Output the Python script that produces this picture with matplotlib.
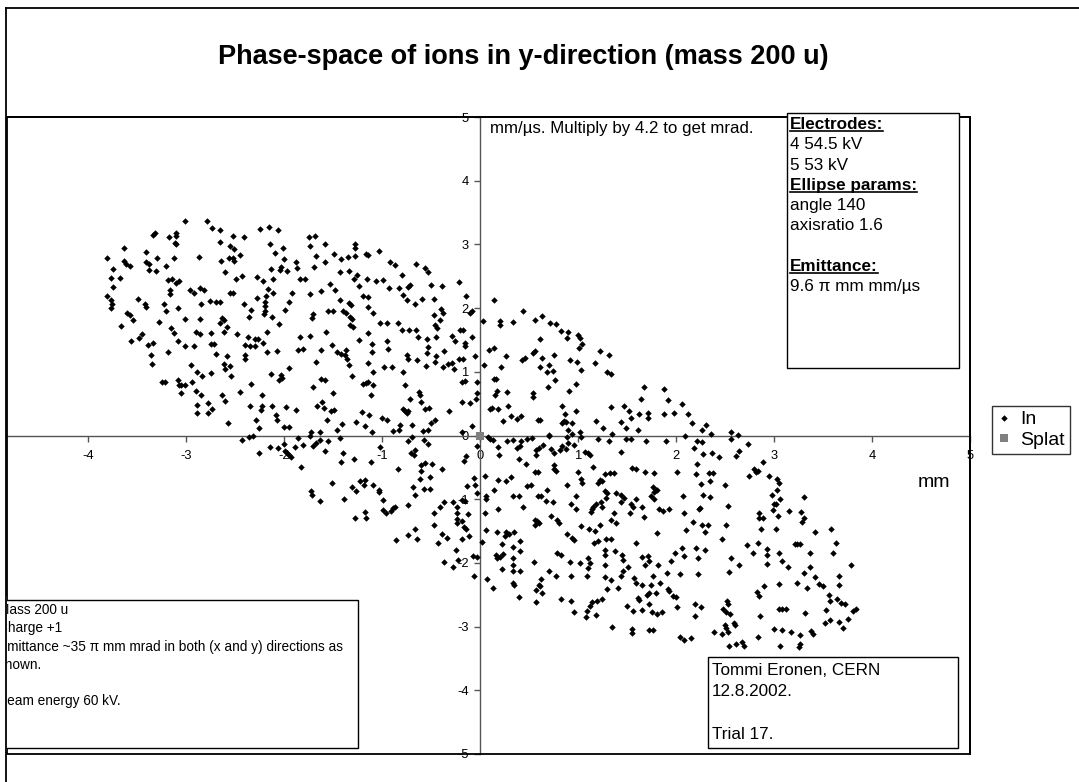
import matplotlib
matplotlib.use("Agg")
import matplotlib.pyplot as plt
from matplotlib.patches import Rectangle
from matplotlib.lines import Line2D

plt.rcParams['font.family'] = ['Liberation Sans', 'DejaVu Sans']
plt.rcParams['axes.unicode_minus'] = False

W, H = 1079, 782

# phase-space points (x in mm, y' in mm/us)
in_upper_left = [
    (-3.01, 3.37), (-2.79, 3.36), (-2.74, 3.25), (-2.66, 3.23), (-2.25, 3.24), (-2.16, 3.28), (-2.06, 3.23),
    (-3.32, 3.18), (-3.34, 3.15), (-3.10, 3.18), (-3.11, 3.13), (-3.18, 3.12), (-2.52, 3.13), (-2.41, 3.11), (-1.75, 3.12),
    (-3.64, 2.95), (-3.12, 3.02), (-3.10, 3.01), (-2.66, 3.04), (-2.55, 2.98), (-2.51, 2.93), (-2.15, 3.00), (-1.74, 2.98),
    (-3.41, 2.88), (-2.01, 2.94), (-2.09, 2.87), (-2.45, 2.83), (-2.52, 2.78), (-2.56, 2.78), (-2.51, 2.74), (-2.87, 2.81),
    (-3.81, 2.78), (-3.30, 2.78), (-3.13, 2.78), (-3.64, 2.74), (-3.62, 2.69), (-3.41, 2.73), (-3.38, 2.69), (-3.57, 2.66),
    (-2.00, 2.77), (-1.88, 2.73), (-2.65, 2.74), (-2.60, 2.57), (-3.75, 2.61), (-3.38, 2.60), (-3.31, 2.59), (-3.21, 2.66),
    (-2.03, 2.64), (-2.04, 2.60), (-1.97, 2.59), (-2.14, 2.62), (-1.87, 2.63), (-1.70, 2.65), (-3.77, 2.47), (-3.68, 2.48),
    (-2.43, 2.50), (-2.49, 2.45), (-2.28, 2.49), (-2.22, 2.43), (-2.11, 2.46), (-1.84, 2.46), (-1.79, 2.46),
    (-3.19, 2.44), (-3.15, 2.45), (-3.07, 2.43), (-3.11, 2.39), (-3.75, 2.33), (-3.17, 2.29), (-3.17, 2.22), (-2.96, 2.29),
    (-2.92, 2.23), (-2.86, 2.31), (-2.82, 2.28), (-2.17, 2.30), (-2.11, 2.24), (-1.92, 2.24), (-1.74, 2.22),
    (-3.81, 2.19), (-3.77, 2.13), (-3.76, 2.06), (-3.77, 2.00), (-3.49, 2.14), (-3.42, 2.06), (-3.41, 2.02), (-3.23, 2.06),
    (-3.21, 1.96), (-3.08, 2.00), (-2.85, 2.06), (-2.76, 2.11), (-2.70, 2.10), (-2.66, 2.09), (-2.55, 2.23), (-2.52, 2.23),
    (-2.41, 2.07), (-2.28, 2.16), (-2.19, 2.19), (-2.20, 2.09), (-2.20, 2.04), (-2.20, 1.96), (-2.21, 1.90), (-2.34, 1.97),
    (-1.99, 1.97), (-1.95, 2.10),
    (-3.61, 1.92), (-3.57, 1.89), (-3.54, 1.82), (-3.28, 1.78), (-3.01, 1.83), (-2.86, 1.83), (-2.64, 1.85), (-2.62, 1.82),
    (-2.66, 1.77), (-2.58, 1.71), (-2.36, 1.86), (-2.13, 1.86), (-1.71, 1.90), (-1.72, 1.84),
    (-3.67, 1.72), (-3.16, 1.69), (-3.13, 1.61), (-2.90, 1.63), (-2.86, 1.60), (-2.75, 1.61), (-2.62, 1.63), (-2.48, 1.59),
    (-2.18, 1.62), (-2.05, 1.75), (-1.74, 1.56),
    (-3.56, 1.48), (-3.48, 1.53), (-3.45, 1.59), (-3.39, 1.42), (-3.34, 1.45), (-3.08, 1.48), (-3.01, 1.41), (-2.92, 1.41),
    (-2.75, 1.43), (-2.72, 1.44), (-2.37, 1.54), (-2.30, 1.52), (-2.27, 1.52), (-2.40, 1.42), (-2.35, 1.41), (-2.30, 1.41),
    (-2.22, 1.45), (-1.84, 1.55),
    (-3.19, 1.31), (-2.70, 1.28), (-2.58, 1.25), (-2.40, 1.26), (-2.40, 1.20), (-2.18, 1.31), (-2.07, 1.32), (-1.86, 1.35),
    (-1.81, 1.36), (-3.36, 1.26), (-3.35, 1.13), (-2.95, 1.10), (-2.62, 1.12), (-2.55, 1.09), (-2.60, 1.04), (-1.95, 1.06),
    (-2.89, 0.99), (-2.75, 0.98), (-2.84, 0.93), (-2.54, 0.94), (-2.14, 0.97), (-2.03, 0.95), (-2.02, 0.91), (-2.05, 0.87),
    (-3.25, 0.84), (-3.22, 0.84), (-3.08, 0.87), (-3.07, 0.80), (-3.05, 0.79), (-3.01, 0.80), (-2.94, 0.84), (-2.34, 0.81),
    (-1.71, 0.76), (-2.90, 0.70), (-2.85, 0.63), (-3.05, 0.66), (-2.64, 0.63), (-2.45, 0.68), (-2.23, 0.63),
    (-2.60, 0.54), (-2.89, 0.48), (-2.78, 0.51), (-2.74, 0.42), (-2.89, 0.35), (-2.78, 0.36), (-2.35, 0.46), (-2.23, 0.47),
    (-2.24, 0.40), (-2.12, 0.46), (-1.98, 0.44), (-1.88, 0.40),
    (-2.57, 0.20), (-2.08, 0.32), (-2.07, 0.25), (-2.29, 0.24), (-2.00, 0.14), (-1.95, 0.13), (-1.73, 0.05), (-2.26, 0.11),
]

in_upper_mid = [
    (-1.58, 3.01), (-1.69, 3.13), (-1.28, 3.00), (-1.28, 2.95), (-1.49, 2.85), (-1.17, 2.85), (-1.14, 2.83), (-1.03, 2.89),
    (-1.68, 2.82), (-1.58, 2.73), (-1.42, 2.77), (-1.35, 2.80), (-1.28, 2.82), (-0.92, 2.73), (-0.87, 2.67), (-0.65, 2.69),
    (-0.56, 2.63), (-0.53, 2.57), (-1.43, 2.57), (-1.34, 2.58), (-1.26, 2.52), (-1.29, 2.45), (-1.16, 2.46), (-1.06, 2.42),
    (-0.99, 2.44), (-0.80, 2.52), (-0.72, 2.37), (-0.74, 2.33), (-0.83, 2.31), (-0.93, 2.31), (-1.24, 2.34), (-1.53, 2.38),
    (-1.48, 2.28), (-1.62, 2.27), (-0.50, 2.37), (-0.39, 2.34), (-0.22, 2.41), (-0.14, 2.19), (-1.20, 2.19), (-1.14, 2.18),
    (-0.79, 2.20), (-0.75, 2.13), (-0.67, 2.07), (-0.59, 2.15), (-0.47, 2.15), (-1.43, 2.12), (-1.34, 2.08), (-1.32, 2.05),
    (-1.55, 1.95), (-1.50, 1.95), (-1.40, 1.96), (-1.37, 1.93), (-1.33, 1.86), (-1.31, 1.83), (-1.14, 2.01), (-1.09, 1.93),
    (-1.33, 1.73), (-1.30, 1.71), (-1.15, 1.61), (-1.02, 1.76), (-0.95, 1.76), (-0.84, 1.76), (-0.80, 1.66), (-0.73, 1.65),
    (-0.66, 1.65), (-0.63, 1.54), (-0.54, 1.52), (-0.45, 1.54), (-0.47, 1.89), (-0.46, 1.73), (-0.44, 1.69), (-0.41, 1.82),
    (-0.40, 1.98), (-0.38, 1.92), (-0.29, 1.56), (-0.26, 1.48), (-0.21, 1.66), (-0.18, 1.66), (-0.15, 1.45), (-0.15, 1.40),
    (-0.10, 1.92), (-0.08, 1.95), (-0.08, 1.55), (-0.05, 1.25), (-0.03, 0.84), (-0.03, 0.66), (-0.04, 0.57), (-0.08, 0.15),
    (-0.19, 0.84), (-0.15, 0.85), (-0.19, 0.53), (-0.10, 0.51), (-0.22, 1.20), (-0.18, 1.20), (-0.29, 1.14), (-0.27, 1.05),
    (-0.33, 1.12), (-0.38, 1.07), (-0.45, 1.25), (-0.46, 1.16), (-0.37, 1.32), (-0.53, 1.39), (-0.54, 1.30), (-0.55, 1.09),
    (-0.64, 1.18), (-0.75, 1.27), (-0.74, 1.20), (-0.94, 1.36), (-0.95, 1.49), (-1.10, 1.44), (-1.10, 1.31), (-1.24, 1.50),
    (-1.37, 1.34), (-1.38, 1.27), (-1.36, 1.20), (-1.34, 1.10), (-1.42, 1.28), (-1.51, 1.42), (-1.57, 1.63), (-1.62, 1.34),
    (-1.68, 1.16), (-1.46, 1.31), (-1.31, 0.93), (-1.15, 1.14), (-1.09, 1.00), (-0.98, 1.07), (-0.90, 1.07), (-0.79, 0.99),
    (-1.20, 0.81), (-1.17, 0.82), (-1.15, 0.84), (-1.09, 0.80), (-1.11, 0.64), (-0.77, 0.80), (-0.72, 0.58), (-0.62, 0.68),
    (-0.61, 0.64), (-0.60, 0.52), (-0.56, 0.41), (-0.52, 0.43), (-0.79, 0.42), (-0.77, 0.38), (-0.75, 0.36), (-0.74, 0.39),
    (-1.67, 0.46), (-1.59, 0.43), (-1.61, 0.52), (-1.52, 0.39), (-1.49, 0.40), (-1.56, 0.24), (-1.62, 0.89), (-1.58, 0.87),
    (-1.50, 0.66), (-1.46, 0.09), (-1.41, 0.18), (-1.27, 0.21), (-1.21, 0.37), (-1.18, 0.15), (-1.13, 0.32), (-1.10, 0.06),
    (-1.00, 0.27), (-0.95, 0.25), (-0.89, 0.07), (-0.83, 0.08), (-0.82, 0.17), (-0.70, 0.17), (-0.58, 0.07), (-0.53, 0.08),
    (-0.50, 0.20), (-0.46, 0.25), (-0.32, 0.39), (-0.19, 0.05), (-1.64, 0.05),
]

in_upper_right = [
    (0.14, 2.12), (0.03, 1.79), (0.44, 1.95), (0.20, 1.79), (0.20, 1.73), (0.34, 1.78), (0.56, 1.82), (0.63, 1.87),
    (0.71, 1.77), (0.77, 1.75), (0.82, 1.64), (0.90, 1.62), (0.89, 1.53), (1.00, 1.57), (1.02, 1.53), (1.04, 1.43),
    (1.01, 1.37), (0.61, 1.51), (0.09, 1.34), (0.14, 1.38), (0.04, 1.11), (0.26, 1.25), (0.21, 1.07), (0.54, 1.30),
    (0.56, 1.33), (0.43, 1.19), (0.46, 1.22), (0.63, 1.21), (0.75, 1.26), (0.61, 1.07), (0.70, 1.10), (0.68, 1.00),
    (0.74, 1.01), (0.76, 0.87), (0.69, 0.76), (0.92, 1.18), (0.99, 1.16), (1.03, 1.03), (1.17, 1.14), (1.22, 1.32),
    (1.32, 1.26), (1.29, 0.99), (1.34, 0.97), (0.14, 0.89), (0.16, 0.89), (0.17, 0.70), (0.15, 0.63), (0.27, 0.68),
    (0.10, 0.42), (0.12, 0.43), (0.18, 0.41), (0.28, 0.47), (0.31, 0.30), (0.23, 0.23), (0.38, 0.26), (0.42, 0.31),
    (0.54, 0.66), (0.54, 0.60), (0.59, 0.24), (0.61, 0.24), (0.91, 0.70), (0.98, 0.81), (0.84, 0.46), (0.87, 0.33),
    (0.86, 0.23), (0.84, 0.20), (0.88, 0.21), (0.94, 0.20), (0.98, 0.39), (0.90, 0.08), (0.94, 0.03), (1.02, 0.06),
    (0.70, 0.01), (1.18, 0.23), (1.25, 0.12), (1.34, 0.45), (1.35, 0.03), (1.44, 0.21), (1.47, 0.46), (1.49, 0.12),
    (1.52, 0.39), (1.54, 0.28), (1.61, 0.09), (1.62, 0.34), (1.64, 0.58), (1.67, 0.76), (1.71, 0.35), (1.71, 0.28),
    (1.88, 0.73), (1.92, 0.55), (1.88, 0.33), (1.98, 0.35), (2.06, 0.50), (2.12, 0.33), (2.16, 0.19), (2.09, 0.00),
    (2.26, 0.08), (2.31, 0.16), (2.36, 0.03), (2.56, 0.06), (2.63, 0.01),
]

in_lower_left = [
    (-2.43, -0.07), (-2.36, -0.02), (-2.32, -0.01), (-2.26, -0.28), (-2.15, -0.18), (-2.06, -0.20), (-2.00, -0.14),
    (-1.99, -0.25), (-1.97, -0.27), (-1.95, -0.31), (-1.93, -0.34), (-1.89, -0.18), (-1.86, -0.04), (-1.81, -0.15),
    (-1.74, -0.01), (-1.71, -0.17), (-1.68, -0.12), (-1.64, -0.07), (-1.55, -0.08), (-1.58, -0.25), (-1.83, -0.49),
    (-1.43, -0.04), (-1.40, -0.28), (-1.42, -0.41), (-1.29, -0.37), (-1.11, -0.42), (-1.02, -0.18), (-0.84, -0.53),
    (-0.74, -0.09), (-0.70, -0.03), (-0.71, -0.28), (-0.67, -0.23), (-0.68, -0.30), (-0.57, -0.07), (-0.53, -0.13),
    (-0.60, -0.46), (-0.56, -0.43), (-0.49, -0.45), (-0.60, -0.56), (-0.51, -0.65), (-0.39, -0.52), (-0.61, -0.69),
    (-0.69, -0.81), (-0.57, -0.84), (-0.51, -0.84), (-0.67, -0.93), (-1.51, -0.74), (-1.73, -0.87), (-1.72, -0.94),
    (-1.63, -1.03), (-1.39, -1.00), (-1.31, -0.81), (-1.27, -0.87), (-1.23, -0.72), (-1.18, -0.70), (-1.19, -0.78),
    (-1.09, -0.78), (-1.03, -0.86), (-1.03, -0.88), (-0.99, -1.02), (-0.99, -1.17), (-0.96, -1.21), (-0.91, -1.19),
    (-0.89, -1.14), (-0.87, -1.13), (-1.18, -1.20), (-1.17, -1.30), (-1.28, -1.30), (-0.74, -1.09), (-0.86, -1.64),
    (-0.74, -1.56), (-0.67, -1.47), (-0.64, -1.62), (-0.47, -1.22), (-0.47, -1.41), (-0.41, -1.12), (-0.37, -1.05),
    (-0.28, -1.05), (-0.24, -1.12), (-0.24, -1.21), (-0.24, -1.31), (-0.24, -1.37), (-0.39, -1.54), (-0.34, -1.61),
    (-0.43, -1.69), (-0.25, -1.79), (-0.23, -1.96), (-0.37, -1.98), (-0.28, -2.07),
]

in_lower_mid = [
    (-0.17, -0.40), (-0.14, -0.32), (-0.13, -0.80), (-0.19, -1.02), (-0.15, -1.03), (-0.06, -0.66), (-0.05, -0.77),
    (-0.03, -0.90), (-0.03, -0.16), (-0.12, -1.24), (-0.19, -1.34), (-0.16, -1.43), (-0.14, -1.46), (-0.11, -1.58),
    (-0.19, -1.63), (-0.07, -1.89), (-0.03, -1.91), (-0.06, -2.21),
    (0.08, -0.02), (0.10, -0.05), (0.13, -0.07), (0.18, -0.18), (0.19, -0.31), (0.27, -0.08), (0.34, -0.07), (0.42, -0.08),
    (0.48, -0.06), (0.53, -0.04), (0.38, -0.19), (0.41, -0.16), (0.40, -0.37), (0.47, -0.44), (0.57, -0.23), (0.60, -0.19),
    (0.64, -0.15), (0.57, -0.31), (0.70, -0.01), (0.89, -0.02), (0.72, -0.21), (0.75, -0.27), (0.81, -0.22), (0.84, -0.16),
    (0.88, -0.21), (0.90, -0.12), (0.96, -0.15), (1.03, -0.02), (1.07, -0.26), (1.10, -0.28), (1.12, -0.30), (1.20, -0.06),
    (1.31, -0.08), (1.44, -0.26), (1.49, -0.05), (1.54, -0.05), (1.69, -0.09), (1.90, -0.08), (1.55, -0.51), (1.59, -0.52),
    (1.68, -0.58), (1.77, -0.59), (2.01, -0.57), (1.27, -0.60), (1.33, -0.59), (1.37, -0.59), (1.15, -0.50), (1.00, -0.57),
    (1.03, -0.68), (1.04, -0.74), (0.75, -0.47), (0.75, -0.52), (0.77, -0.56), (0.56, -0.57), (0.59, -0.57), (0.48, -0.80),
    (0.52, -0.78), (0.18, -0.70), (0.26, -0.72), (0.31, -0.65), (0.14, -0.86), (0.05, -0.64), (0.06, -0.95), (0.06, -0.99),
    (0.33, -0.95), (0.40, -0.95), (0.44, -1.12), (0.18, -1.16), (0.59, -0.95), (0.62, -0.95), (0.68, -0.86), (0.67, -1.03),
    (0.74, -1.05), (0.72, -1.26), (0.78, -1.32), (0.80, -1.37), (0.56, -1.32), (0.56, -1.41), (0.58, -1.34), (0.60, -1.37),
    (0.89, -0.78), (0.93, -1.07), (0.98, -1.16), (0.98, -0.95), (1.03, -1.42), (0.89, -1.54), (0.94, -1.61), (0.96, -1.64),
    (1.11, -1.47), (1.17, -1.50), (1.22, -1.41), (1.13, -1.20), (1.14, -1.15), (1.15, -1.12), (1.18, -1.08), (1.20, -0.74),
    (1.22, -0.70), (1.24, -0.72), (1.27, -0.87), (1.29, -0.91), (1.23, -1.05), (1.28, -0.98), (1.24, -1.12), (1.34, -1.32),
    (1.39, -1.37), (1.37, -1.21), (1.28, -1.62), (1.34, -1.62), (1.20, -1.65), (1.16, -1.68), (1.27, -1.79), (1.38, -1.82),
    (1.39, -0.90), (1.44, -0.93), (1.47, -0.98), (1.44, -1.05), (1.54, -1.07), (1.56, -1.13), (1.59, -1.00), (1.53, -1.22),
    (1.65, -1.12), (1.67, -1.28), (1.74, -0.95), (1.76, -0.81), (1.77, -0.89), (1.79, -0.85), (1.80, -0.85), (1.77, -1.00),
    (1.83, -1.15), (1.87, -1.19), (1.93, -1.16), (2.07, -0.95), (2.08, -1.22), (2.10, -1.49), (1.80, -1.53), (2.06, -1.76),
    (1.99, -1.84), (1.95, -1.97), (2.04, -2.17), (1.45, -1.88), (1.46, -1.95), (1.51, -2.06), (1.46, -2.12), (1.44, -2.21),
    (1.59, -1.68), (1.65, -1.90), (1.68, -2.03), (1.71, -1.89), (1.72, -1.97), (1.76, -2.20), (1.82, -2.03), (1.91, -2.16),
    (1.57, -2.23), (1.59, -2.32), (1.65, -2.34), (1.74, -2.35), (1.27, -1.88), (1.27, -2.03), (1.27, -2.22), (1.34, -2.27),
    (1.29, -2.41), (1.41, -2.39), (1.10, -1.92), (1.12, -2.00), (1.10, -2.08), (1.09, -2.20), (1.02, -2.00), (0.92, -1.99),
    (0.93, -2.21), (0.78, -1.85), (0.83, -1.88), (0.70, -2.13), (0.77, -2.20), (0.55, -1.99), (0.41, -1.82), (0.41, -1.66),
    (0.34, -1.75), (0.35, -1.52), (0.26, -1.52), (0.29, -1.54), (0.25, -1.58), (0.17, -1.51), (0.22, -1.71), (0.16, -1.88),
    (0.17, -1.92), (0.20, -1.90), (0.23, -1.86), (0.22, -2.09), (0.33, -1.92), (0.33, -2.03), (0.33, -2.13), (0.34, -2.31),
    (0.35, -2.34), (0.41, -2.13), (0.40, -2.53), (0.07, -2.25), (0.13, -2.39), (0.02, -1.67), (0.06, -1.49), (0.05, -1.21),
    (0.57, -2.42), (0.60, -2.34), (0.61, -2.37), (0.62, -2.25), (0.63, -2.48), (0.57, -2.62), (0.82, -2.57), (0.93, -2.60),
    (0.96, -2.77), (1.08, -2.85), (1.09, -2.76), (1.12, -2.68), (1.14, -2.61), (1.19, -2.60), (1.24, -2.57), (1.18, -2.82),
    (1.35, -3.01), (1.50, -2.68), (1.56, -2.76), (1.61, -2.55), (1.62, -2.59), (1.65, -2.74), (1.55, -3.04), (1.55, -3.10),
    (1.70, -2.50), (1.72, -2.48), (1.72, -2.65), (1.75, -2.77), (1.80, -2.81), (1.86, -2.77), (1.72, -3.06), (1.76, -3.06),
    (1.79, -2.47), (1.84, -2.31), (1.92, -2.41), (1.93, -2.44), (1.97, -2.52), (2.00, -2.53), (2.01, -2.69), (2.08, -1.89),
    (2.04, -3.16), (2.08, -3.21),
]

in_lower_right = [
    (2.56, -0.05), (2.21, -0.09), (2.26, -0.10), (2.18, -0.20), (2.27, -0.29), (2.37, -0.28), (2.44, -0.33), (2.61, -0.32),
    (2.64, -0.25), (2.73, -0.14), (2.21, -0.44), (2.20, -0.60), (2.34, -0.59), (2.38, -0.59), (2.35, -0.71), (2.25, -0.76),
    (2.50, -0.77), (2.27, -0.93), (2.35, -0.97), (2.24, -1.14), (2.23, -1.16), (2.53, -1.11), (2.74, -0.63), (2.80, -0.53),
    (2.82, -0.57), (2.84, -0.55), (2.89, -0.42), (2.95, -0.63), (3.03, -0.68), (3.05, -0.74), (3.03, -0.85), (2.98, -0.93),
    (3.06, -1.00), (3.00, -1.08), (3.02, -1.07), (2.99, -1.17), (3.04, -1.27), (2.85, -1.22), (2.85, -1.29), (2.89, -1.29),
    (2.87, -1.46), (3.02, -1.47), (3.15, -1.19), (3.31, -0.97), (3.28, -1.20), (3.31, -1.30), (3.29, -1.36), (3.42, -1.52),
    (3.58, -1.47), (3.63, -1.68), (3.60, -1.85), (2.17, -1.36), (2.26, -1.41), (2.33, -1.40), (2.29, -1.52), (2.51, -1.41),
    (2.47, -1.63), (2.20, -1.76), (2.29, -1.79), (2.22, -1.93), (2.22, -2.17), (2.72, -1.72), (2.79, -1.84), (2.84, -1.68),
    (2.93, -1.78), (2.93, -1.87), (2.93, -2.01), (3.05, -1.85), (3.08, -1.97), (3.14, -2.06), (3.21, -1.70), (3.23, -1.70),
    (3.26, -1.71), (3.37, -1.84), (3.37, -2.07), (3.31, -2.16), (3.42, -2.22), (3.79, -2.03), (2.56, -1.93), (2.54, -2.14),
    (2.64, -2.04), (3.05, -2.33), (3.23, -2.32), (3.34, -2.39), (3.46, -2.33), (3.50, -2.37), (3.56, -2.51), (3.57, -2.60),
    (3.64, -2.56), (3.68, -2.63), (3.72, -2.64), (3.66, -2.21), (3.66, -2.34), (2.83, -2.46), (2.85, -2.52), (2.90, -2.37),
    (3.05, -2.73), (3.08, -2.72), (3.12, -2.72), (2.86, -2.84), (3.32, -2.79), (3.53, -2.74), (3.52, -2.95), (3.57, -2.90),
    (3.66, -2.93), (3.70, -3.02), (3.75, -2.88), (3.81, -2.75), (3.84, -2.73), (3.00, -3.04), (3.08, -3.05), (3.17, -3.08),
    (3.26, -3.13), (3.38, -3.07), (3.40, -3.12), (2.84, -3.16), (3.06, -3.30), (3.26, -3.28), (3.25, -3.32), (2.48, -2.73),
    (2.51, -2.77), (2.55, -2.80), (2.50, -2.98), (2.51, -3.02), (2.60, -2.97), (2.59, -2.94), (2.52, -2.60), (2.53, -2.64),
    (2.39, -3.08), (2.47, -3.11), (2.53, -3.09), (2.54, -3.30), (2.61, -3.28), (2.67, -3.24), (2.69, -3.31), (2.19, -2.64),
    (2.25, -2.69), (2.19, -2.83), (2.15, -3.18),
]

splat_x = [0.0]
splat_y = [0.0]

x_ticks = [-4, -3, -2, -1, 0, 1, 2, 3, 4, 5]
y_ticks = [-5, -4, -3, -2, -1, 0, 1, 2, 3, 4, 5]

title = "Phase-space of ions in y-direction (mass 200 u)"
note_top = "mm/\u00b5s. Multiply by 4.2 to get mrad."
electrode_lines = [("Electrodes:", True), ("4 54.5 kV", False), ("5 53 kV", False),
                   ("Ellipse params:", True), ("angle 140", False), ("axisratio 1.6", False),
                   ("", False), ("Emittance:", True), ("9.6 \u03c0 mm mm/\u00b5s", False)]
beam_lines = ["Mass 200 u", "Charge +1",
              "Emittance ~35 \u03c0 mm mrad in both (x and y) directions as",
              "shown.", "", "Beam energy 60 kV."]
author_lines = ["Tommi Eronen, CERN", "12.8.2002.", "", "Trial 17."]

all_pts = in_upper_left + in_upper_mid + in_upper_right + in_lower_left + in_lower_mid + in_lower_right
in_x = [p[0] for p in all_pts]
in_y = [p[1] for p in all_pts]


def fxy(px, py):
    # figure pixel (from top-left) -> figure fraction
    return px / W, 1 - py / H


def box(x0, y0, x1, y1, lw=1.0):
    r = Rectangle((x0 / W, 1 - y1 / H), (x1 - x0) / W, (y1 - y0) / H, transform=fig.transFigure,
                  facecolor='white', edgecolor='black', linewidth=lw, zorder=2)
    fig.add_artist(r)


fig = plt.figure(figsize=(W / 100, H / 100), dpi=100)
ax = fig.add_axes([7 / W, 1 - 754 / H, (970 - 7) / W, (754 - 117) / H])
ax.set_xlim(-4.83, 5.0)
ax.set_ylim(-5, 5)

ax.plot(in_x, in_y, 'D', ms=3.3, color='black', mew=0, ls='none', label='In', zorder=3)
ax.plot(splat_x, splat_y, 's', ms=5.5, color='#808080', mew=0, ls='none', label='Splat', zorder=4)

for s in ['left', 'bottom']:
    ax.spines[s].set_position(('data', 0))
    ax.spines[s].set_color('#555555')
    ax.spines[s].set_linewidth(1.0)
for s in ['top', 'right']:
    ax.spines[s].set_color('black')
    ax.spines[s].set_linewidth(1.3)
ax.add_patch(Rectangle((0, 0), 1, 1, transform=ax.transAxes, fill=False, edgecolor='black',
                       linewidth=1.3, clip_on=False, zorder=5))

ax.set_xticks(x_ticks)
ax.set_yticks(y_ticks)
ax.tick_params(axis='both', direction='out', length=4, width=1, color='#555555', labelsize=9.3)
ax.tick_params(axis='x', pad=6.5)
ax.tick_params(axis='y', pad=4)

leg = ax.legend(loc='upper left', bbox_to_anchor=fxy(992, 406), bbox_transform=fig.transFigure,
                frameon=True, fancybox=False, edgecolor='black', fontsize=14, handlelength=0.7,
                handletextpad=0.5, borderpad=0.25, labelspacing=0.15, borderaxespad=0)
leg.get_frame().set_linewidth(1.0)

fig.text(*fxy(523.5, 64), title, ha='center', va='baseline', fontsize=19.5, fontweight='bold')
fig.text(*fxy(918, 487), "mm", ha='left', va='baseline', fontsize=14)
fig.text(*fxy(490, 133), note_top, ha='left', va='baseline', fontsize=12.2)

# text boxes
box(787, 113, 959, 368)
headers = []
for i, (txt, bold) in enumerate(electrode_lines):
    t = fig.text(*fxy(790, 129 + 20.3 * i), txt, ha='left', va='baseline', fontsize=12.3,
                 fontweight='bold' if bold else 'normal', zorder=3)
    if bold:
        headers.append(t)

box(-5, 600, 358, 748)
for i, txt in enumerate(beam_lines):
    fig.text(*fxy(-1.5, 614 + 18.3 * i), txt, ha='left', va='baseline', fontsize=9.85, zorder=3)

box(708, 657, 958, 748)
for i, txt in enumerate(author_lines):
    fig.text(*fxy(712, 675 + 21.3 * i), txt, ha='left', va='baseline', fontsize=12.3, zorder=3)

# chart-area border, hides the cut-off left edge of the text
fig.add_artist(Rectangle((0, 1 - 752 / H), 7 / W, (752 - 596) / H, transform=fig.transFigure,
                         facecolor='white', edgecolor='none', zorder=20))
fig.add_artist(Line2D([6 / W, 6 / W], [0, 1 - 8 / H], transform=fig.transFigure, color='black', lw=1.3, zorder=21))
fig.add_artist(Line2D([6 / W, 1], [1 - 8 / H, 1 - 8 / H], transform=fig.transFigure, color='black', lw=1.3, zorder=21))

# underline the bold headers
fig.canvas.draw()
for t in headers:
    bb = t.get_window_extent()
    fig.add_artist(Line2D([bb.x0 / W, bb.x1 / W], [(bb.y0 + 0.8) / H] * 2, transform=fig.transFigure,
                          color='black', lw=1.2, zorder=3))

fig.savefig('out.png', dpi=100)
